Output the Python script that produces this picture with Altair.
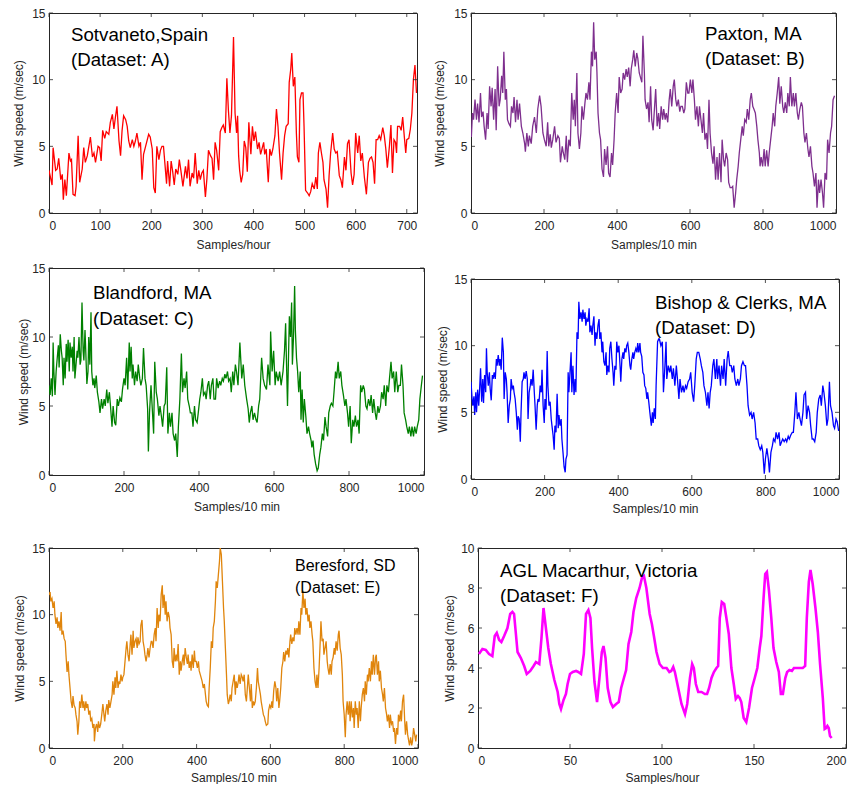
import altair as alt
import pandas as pd

# ---------------- data (sample index, wind speed m/s) ----------------
A_pts = [(0,3.2),(6,2.1),(8,4.9),(13,3.2),(16,3.3),(19,4.1),(23,2.5),(26,2.9),(28,1.0),(31,2.5),
 (34,1.3),(39,4.5),(42,3.9),(44,4.0),(47,1.4),(51,1.3),(53,2.0),(57,5.8),(60,2.3),(65,3.3),
 (68,4.9),(71,3.8),(75,4.3),(81,5.7),(85,4.2),(88,4.5),(91,3.8),(96,5.0),(99,4.9),(102,3.9),
 (105,6.2),(109,5.6),(112,6.1),(117,5.9),(120,6.8),(124,7.4),(127,6.3),(130,7.2),(133,8.0),(137,5.4),
 (140,4.3),(143,6.2),(146,7.3),(150,7.0),(153,6.5),(156,5.4),(159,4.9),(163,5.5),(166,5.0),(169,5.4),
 (172,6.0),(176,5.0),(179,5.3),(182,2.5),(185,4.4),(189,5.0),(195,5.9),(198,5.7),(202,4.8),(205,1.9),
 (208,1.5),(211,5.0),(215,4.0),(218,4.7),(221,5.0),(224,5.0),(230,2.2),(232,3.9),(236,2.0),(239,3.9),
 (242,3.1),(245,2.1),(248,3.3),(252,2.9),(255,4.0),(258,3.2),(262,2.0),(267,3.5),(270,2.6),(273,4.0),
 (276,2.0),(280,3.0),(283,2.6),(286,4.5),(290,2.2),(293,3.2),(296,2.5),(299,3.0),(302,3.2),(306,1.2),
 (309,2.6),(312,4.7),(316,4.3),(319,4.1),(322,2.5),(325,5.3),(328,4.7),(332,3.2),(335,6.1),(338,6.4),
 (341,6.6),(345,6.0),(348,10.1),(351,7.7),(354,6.0),(357,7.3),(361,13.2),(364,7.5),(367,6.0),(369,7.3),
 (371,4.3),(373,3.2),(376,2.3),(379,2.9),(382,5.4),(385,4.9),(388,3.1),(391,6.8),(395,4.4),(398,6.5),
 (401,5.4),(404,6.1),(408,4.8),(411,5.3),(414,4.4),(418,5.0),(420,5.3),(422,4.4),(425,4.8),(429,2.3),
 (432,4.8),(435,4.3),(438,4.8),(442,5.8),(445,7.8),(448,6.5),(451,4.5),(455,2.5),(458,4.5),(461,5.8),
 (464,6.5),(468,6.7),(470,9.8),(473,10.8),(475,12.0),(478,9.5),(481,10.2),(484,6.0),(486,4.2),(489,3.8),
 (491,8.5),(494,9.0),(497,9.0),(499,6.5),(502,1.7),(506,1.5),(509,1.3),(512,1.6),(515,2.2),(519,1.8),
 (522,2.7),(525,1.8),(527,4.5),(530,5.3),(533,4.5),(536,3.8),(538,2.5),(542,1.8),(545,0.4),(548,2.8),
 (551,4.5),(555,6.0),(558,4.8),(561,4.5),(564,4.6),(568,2.8),(571,2.5),(574,1.9),(578,4.2),(581,3.2),
 (584,5.2),(587,5.5),(591,3.0),(594,2.1),(597,2.9),(600,6.0),(604,4.5),(607,5.8),(610,3.9),(613,4.5),
 (617,2.7),(621,1.4),(625,3.8),(628,4.1),(631,4.2),(634,3.8),(637,2.2),(640,5.5),(643,5.5),(646,5.8),
 (649,5.5),(653,6.4),(656,5.8),(659,4.8),(662,3.4),(666,5.0),(669,6.6),(672,3.0),(675,5.5),(678,5.3),
 (680,4.5),(682,6.5),(686,6.5),(689,6.2),(692,7.2),(695,5.8),(698,4.5),(700,5.5),(704,5.6),(707,6.3),
 (710,7.5),(713,10.0),(716,11.1),(719,9.0)]

B_pts = [(1,5.7),(4,7.5),(7,7.0),(11,8.5),(15,7.0),(18,8.2),(22,6.8),(26,9.0),(29,7.2),(33,7.6),
 (36,6.5),(40,5.5),(44,7.5),(47,6.3),(51,9.5),(55,8.0),(58,9.4),(62,7.0),(66,9.3),(69,6.2),
 (73,11.0),(77,8.0),(80,8.5),(84,10.3),(87,9.0),(90,12.1),(94,8.5),(97,9.3),(100,7.0),(104,6.7),
 (108,6.5),(111,8.0),(115,7.5),(118,8.7),(122,6.8),(126,8.5),(129,7.0),(133,8.2),(138,6.5),(142,6.0),
 (147,5.2),(149,4.6),(153,6.0),(157,5.0),(160,5.8),(165,5.2),(169,6.5),(174,7.2),(179,6.0),(183,7.8),
 (188,8.8),(192,8.0),(197,6.0),(201,5.5),(206,5.0),(210,6.8),(213,5.0),(217,5.9),(220,4.9),(224,5.5),
 (229,6.5),(233,5.3),(238,5.8),(242,5.6),(245,3.8),(250,5.0),(253,4.5),(257,4.0),(261,5.8),(264,3.8),
 (268,5.5),(272,5.0),(276,9.0),(280,7.0),(283,8.5),(286,6.5),(290,10.5),(293,6.0),(297,4.8),(301,6.0),
 (304,8.0),(308,7.0),(312,8.2),(315,9.0),(319,8.5),(323,9.8),(326,8.5),(330,12.1),(333,11.0),(336,14.3),
 (339,11.5),(343,12.1),(345,10.6),(348,7.5),(352,6.0),(355,5.5),(359,3.3),(363,2.7),(366,4.8),(370,3.6),
 (374,5.0),(377,3.0),(381,2.7),(385,4.5),(388,3.6),(392,5.5),(395,7.5),(399,9.0),(403,7.5),(406,10.2),
 (410,9.0),(414,9.3),(417,10.5),(421,10.0),(425,10.8),(428,10.2),(432,10.9),(436,9.5),(439,10.8),(443,11.5),
 (446,12.2),(450,11.0),(454,12.0),(457,11.6),(461,10.5),(466,10.0),(468,9.8),(471,13.3),(475,10.5),(477,8.5),
 (481,7.8),(485,8.3),(488,6.8),(492,9.5),(495,7.0),(499,6.2),(503,8.0),(506,9.3),(510,6.5),(514,7.5),
 (517,6.3),(521,8.0),(525,7.0),(528,7.8),(532,7.0),(535,7.5),(539,6.8),(543,8.5),(546,9.3),(550,8.0),
 (554,9.5),(557,10.0),(561,8.5),(564,8.0),(568,8.5),(572,7.6),(575,8.0),(579,8.0),(583,7.5),(586,7.8),
 (590,9.8),(594,9.0),(597,9.0),(601,10.0),(605,9.0),(608,10.0),(612,8.5),(615,7.0),(619,8.0),(623,6.5),
 (626,8.0),(630,7.0),(634,6.0),(637,7.5),(641,5.5),(645,6.0),(648,4.8),(652,8.5),(655,6.0),(659,4.5),
 (663,3.7),(666,5.0),(670,2.5),(674,4.2),(677,2.5),(681,4.5),(685,2.3),(688,5.5),(692,4.0),(695,3.5),
 (699,4.5),(703,4.0),(706,2.3),(710,1.9),(714,1.9),(717,2.0),(721,0.4),(725,1.5),(728,2.5),(732,3.5),
 (735,4.5),(739,5.5),(743,6.5),(746,5.8),(750,7.0),(754,6.8),(757,7.8),(761,7.0),(765,8.5),(768,9.0),
 (772,8.0),(775,7.8),(779,7.5),(783,6.5),(786,5.5),(790,4.5),(792,3.5),(795,4.2),(799,3.5),(803,4.8),
 (806,3.5),(810,4.7),(814,3.5),(817,4.5),(821,5.5),(825,6.5),(828,7.5),(832,6.5),(835,8.0),(839,9.0),
 (843,10.2),(846,8.2),(850,9.5),(854,8.0),(857,7.5),(861,8.3),(865,7.5),(868,9.0),(872,8.0),(875,10.2),
 (879,8.0),(883,9.0),(886,8.0),(890,9.0),(894,7.5),(897,7.0),(901,7.8),(905,8.3),(908,8.0),(912,6.0),
 (915,5.3),(919,6.0),(923,4.8),(926,4.2),(930,5.0),(934,3.5),(937,3.0),(941,2.0),(945,3.0),(948,0.4),
 (952,2.5),(955,1.5),(959,2.5),(963,1.5),(966,0.4),(970,3.0),(974,2.5),(977,5.5),(981,4.5),(985,6.0),
 (988,6.5),(992,8.5),(996,8.8)]

C_pts = [(0,6.5),(3,5.8),(6,7.0),(9,5.7),(11,9.6),(13,7.5),(16,5.8),(19,7.5),(22,8.5),(25,9.4),
 (27,7.8),(30,10.2),(33,9.0),(35,8.5),(38,6.5),(40,8.5),(43,7.0),(46,9.5),(48,8.2),(51,9.8),
 (54,7.5),(56,9.6),(59,8.5),(62,9.3),(64,7.5),(67,10.0),(69,7.0),(72,8.0),(75,9.0),(77,8.5),
 (80,10.0),(83,8.0),(85,8.3),(88,12.5),(91,9.0),(93,8.3),(96,10.5),(98,9.0),(101,6.6),(104,7.5),
 (106,10.0),(109,8.0),(112,11.8),(114,7.5),(117,6.5),(120,7.0),(122,6.3),(126,7.2),(129,6.0),(133,5.3),
 (136,4.5),(140,5.5),(143,4.8),(147,5.5),(150,5.0),(154,6.2),(157,5.2),(161,6.0),(164,5.0),(168,3.5),
 (171,5.0),(175,3.8),(178,3.6),(182,5.5),(185,5.0),(189,5.6),(193,5.3),(196,6.2),(200,7.0),(203,6.5),
 (207,8.5),(210,6.2),(214,9.6),(216,7.5),(219,9.3),(222,7.0),(224,8.0),(228,6.5),(231,7.5),(235,6.8),
 (238,8.0),(242,7.0),(245,6.5),(249,7.0),(252,9.2),(256,7.0),(259,6.5),(263,4.8),(265,1.7),(268,4.5),
 (272,6.5),(275,5.0),(279,3.0),(282,8.2),(286,6.0),(289,5.5),(293,4.3),(296,5.0),(300,4.2),(303,3.5),
 (307,5.0),(310,5.2),(314,7.8),(317,3.0),(321,4.5),(324,3.5),(328,4.5),(331,3.0),(335,2.5),(338,3.0),
 (342,1.3),(345,3.5),(349,5.5),(353,8.8),(356,6.0),(360,7.0),(363,6.3),(367,7.5),(370,5.5),(374,5.0),
 (377,4.5),(381,4.5),(384,3.5),(388,5.0),(391,4.0),(395,3.8),(398,4.5),(402,5.5),(405,6.0),(409,7.0),
 (412,5.8),(416,6.0),(419,5.5),(423,6.5),(426,6.8),(430,5.5),(433,6.5),(437,7.0),(440,5.5),(444,5.5),
 (447,7.0),(451,6.3),(455,6.8),(458,6.5),(462,7.0),(465,6.8),(469,7.3),(472,7.0),(476,7.5),(479,6.8),
 (483,7.0),(486,6.0),(490,7.5),(493,6.5),(497,8.0),(500,7.5),(504,6.5),(509,9.6),(514,7.0),(518,8.0),
 (522,6.5),(527,5.5),(531,4.8),(534,3.8),(537,4.5),(541,5.0),(544,4.0),(548,4.5),(552,4.0),(555,3.8),
 (559,5.0),(562,5.5),(567,8.5),(571,7.0),(575,6.5),(580,6.2),(584,8.0),(589,6.5),(591,10.4),(595,7.5),
 (599,9.0),(603,6.5),(606,7.5),(611,6.8),(615,7.5),(619,6.5),(624,7.5),(628,9.0),(631,11.0),(633,8.5),
 (636,5.0),(639,9.0),(641,11.5),(644,10.0),(647,12.5),(649,8.0),(652,10.0),(655,13.7),(657,10.5),(660,8.5),
 (663,7.5),(666,6.0),(670,7.5),(672,4.0),(675,6.2),(678,3.8),(681,5.5),(685,4.2),(688,3.0),(692,3.5),
 (695,3.0),(699,2.5),(701,2.0),(704,2.5),(707,1.5),(711,0.8),(715,0.3),(718,0.5),(722,1.5),(725,2.0),
 (729,3.0),(732,2.5),(736,4.2),(739,3.5),(743,2.8),(746,4.5),(750,5.0),(753,5.2),(757,5.0),(760,6.0),
 (764,7.5),(767,7.0),(771,8.2),(774,7.0),(778,7.5),(781,6.5),(785,5.8),(789,5.0),(792,5.5),(796,4.5),
 (799,3.5),(803,5.0),(806,2.3),(810,4.0),(813,3.5),(817,4.3),(820,3.5),(824,4.0),(827,3.0),(831,6.5),
 (834,6.0),(838,6.5),(841,6.2),(845,5.0),(848,4.8),(852,5.5),(856,5.0),(859,5.8),(863,4.5),(866,5.5),
 (870,4.5),(873,4.0),(877,5.0),(880,4.5),(884,5.0),(887,6.0),(891,5.5),(894,6.5),(898,5.0),(901,6.5),
 (905,6.0),(908,7.0),(912,8.2),(915,7.0),(919,7.5),(922,6.0),(926,7.5),(930,6.0),(933,6.5),(937,6.5),
 (940,8.0),(944,6.5),(947,4.5),(951,4.0),(954,3.5),(958,3.0),(961,3.5),(965,2.8),(968,3.5),(972,2.8),
 (975,3.5),(979,3.0),(982,3.5),(986,4.0),(989,5.5),(993,6.5),(996,7.2)]

D_pts = [(0,7.3),(3,6.0),(5,5.5),(8,6.2),(10,4.8),(13,6.5),(15,5.0),(18,6.7),(21,5.5),(23,6.5),
 (26,8.3),(29,5.8),(32,7.5),(34,5.7),(37,7.8),(40,6.5),(42,9.8),(44,8.0),(47,7.0),(50,8.0),
 (52,6.8),(55,5.9),(58,7.8),(60,7.5),(63,8.0),(66,7.5),(69,9.0),(71,8.5),(74,9.3),(77,8.5),
 (79,9.0),(82,8.2),(85,10.6),(88,9.5),(90,6.0),(93,8.0),(96,7.5),(98,6.5),(101,4.2),(104,5.5),
 (107,6.0),(109,7.5),(112,6.8),(115,7.0),(117,6.5),(120,6.0),(123,5.0),(126,3.7),(128,4.7),(131,4.5),
 (134,2.8),(136,5.0),(139,7.3),(142,7.5),(144,8.0),(147,7.5),(150,8.1),(153,7.5),(155,4.5),(158,6.5),
 (161,7.0),(163,7.5),(166,7.0),(169,8.2),(172,6.5),(174,5.5),(177,3.7),(180,5.5),(182,6.0),(185,5.8),
 (188,7.0),(191,6.5),(193,8.2),(196,5.5),(199,4.2),(201,6.0),(204,5.2),(207,9.6),(209,7.0),(212,5.5),
 (215,5.8),(218,4.5),(220,4.0),(223,3.3),(226,2.2),(228,4.0),(231,3.5),(234,6.4),(237,3.8),(239,4.8),
 (242,4.0),(245,4.5),(247,3.0),(250,2.0),(253,0.9),(256,0.5),(258,1.5),(261,1.8),(264,8.0),(266,6.5),
 (269,8.0),(272,9.5),(274,6.5),(277,8.5),(280,6.3),(283,7.5),(285,6.5),(288,11.0),(291,10.5),(293,13.3),
 (296,12.0),(299,12.5),(302,11.8),(304,12.7),(307,12.0),(310,12.5),(312,11.5),(315,12.0),(318,11.8),(321,12.8),
 (323,11.0),(326,11.5),(329,10.8),(331,11.5),(334,12.2),(337,10.0),(339,11.0),(342,10.5),(345,11.5),(348,12.0),
 (350,10.5),(353,11.0),(356,9.5),(358,10.3),(361,8.8),(364,8.5),(367,9.5),(369,7.8),(372,8.5),(375,8.0),
 (377,9.8),(380,10.3),(383,9.0),(386,8.0),(388,7.0),(391,8.5),(394,8.2),(396,10.3),(399,9.5),(402,10.0),
 (405,8.5),(407,7.3),(410,9.0),(413,9.5),(415,9.0),(418,9.8),(421,9.5),(423,10.0),(426,10.2),(429,9.5),
 (432,8.5),(434,8.2),(437,9.0),(440,9.5),(442,9.0),(445,9.5),(448,9.8),(451,9.5),(453,10.2),(456,9.5),
 (459,10.2),(461,9.5),(464,9.2),(467,8.0),(470,7.8),(472,7.0),(475,6.8),(478,6.0),(480,6.5),(483,5.8),
 (486,5.0),(490,4.0),(493,5.0),(495,4.2),(498,5.3),(501,4.5),(503,7.0),(507,10.3),(510,10.5),(512,10.5),
 (516,10.0),(520,10.3),(523,6.5),(527,8.5),(530,10.3),(532,7.5),(536,8.5),(540,8.0),(543,8.5),(547,7.5),
 (550,8.3),(554,7.0),(558,8.5),(561,7.5),(565,6.0),(568,7.5),(572,6.5),(576,7.0),(579,6.5),(583,7.0),
 (586,6.8),(590,7.3),(594,7.5),(597,8.0),(601,6.5),(605,5.8),(608,7.0),(612,9.0),(615,9.5),(619,9.5),
 (623,9.0),(626,8.5),(630,8.0),(633,7.0),(637,6.5),(641,5.5),(644,6.5),(647,5.3),(650,6.5),(653,7.0),
 (657,8.5),(660,9.0),(664,7.5),(668,9.0),(670,7.5),(674,8.5),(678,7.0),(681,8.5),(685,7.5),(688,9.0),
 (692,7.0),(696,9.0),(699,9.6),(703,8.5),(707,8.5),(710,8.0),(714,8.5),(717,7.5),(721,7.0),(725,7.5),
 (728,7.0),(732,7.5),(735,8.5),(739,8.8),(743,8.5),(746,8.5),(750,7.0),(753,5.5),(757,4.8),(761,5.0),
 (764,4.5),(768,5.0),(772,4.2),(775,3.0),(779,3.0),(782,2.5),(786,2.2),(790,2.5),(793,2.0),(797,0.4),
 (800,1.5),(804,2.3),(808,1.5),(811,0.5),(815,2.0),(819,2.5),(822,3.0),(826,2.8),(829,3.5),(833,3.0),
 (837,3.5),(840,2.5),(844,2.8),(847,3.0),(851,2.8),(855,3.0),(858,2.8),(862,3.2),(865,3.0),(869,3.3),
 (873,3.5),(876,3.5),(880,5.0),(883,6.5),(887,4.5),(891,5.0),(894,4.5),(898,4.0),(902,5.0),(905,6.3),
 (909,6.5),(912,4.5),(916,5.5),(920,5.0),(923,4.0),(927,3.0),(930,3.0),(934,2.8),(938,3.5),(941,5.0),
 (945,6.0),(949,6.3),(952,5.5),(956,7.0),(959,6.5),(963,5.5),(967,4.0),(970,4.5),(974,7.3),(977,5.5),
 (981,5.0),(985,4.0),(988,3.8),(992,4.5),(995,4.3),(999,3.6)]

E_pts = [(0,11.5),(3,11.7),(5,11.0),(8,11.2),(11,10.5),(14,11.0),(16,10.0),(19,9.3),(22,9.8),(24,9.0),
 (27,9.5),(30,8.8),(33,10.2),(35,8.5),(38,8.8),(41,8.2),(44,8.0),(46,7.0),(49,5.7),(52,6.5),
 (54,5.5),(57,4.5),(60,3.5),(63,3.0),(65,3.9),(68,3.2),(71,3.0),(73,2.5),(76,2.0),(78,1.0),
 (81,2.0),(83,3.5),(86,3.0),(89,4.0),(92,3.0),(94,3.5),(97,2.8),(100,3.5),(102,3.0),(105,3.3),
 (108,2.5),(111,2.8),(113,2.0),(116,2.2),(119,1.5),(122,1.8),(123,0.5),(126,1.5),(129,1.8),(132,1.2),
 (134,2.0),(137,1.5),(140,1.8),(143,2.5),(146,3.3),(149,2.5),(151,2.0),(154,2.8),(157,3.3),(160,2.5),
 (162,3.6),(165,3.0),(168,3.5),(171,4.0),(173,5.0),(176,4.0),(179,5.3),(181,4.5),(184,5.8),(187,4.5),
 (190,5.0),(192,4.8),(195,5.5),(198,5.0),(200,5.3),(203,5.5),(206,6.5),(209,7.5),(211,8.0),(214,7.0),
 (217,6.5),(220,7.8),(222,8.5),(225,7.0),(228,8.8),(230,7.5),(233,8.0),(236,8.2),(239,7.5),(241,8.3),
 (244,7.8),(247,8.0),(249,9.2),(252,9.6),(255,8.0),(258,7.5),(260,7.0),(263,6.5),(266,7.0),(268,7.5),
 (271,6.8),(274,7.5),(277,8.0),(279,8.0),(282,7.5),(285,8.5),(288,9.0),(290,8.0),(293,10.5),(296,9.0),
 (298,10.0),(301,9.5),(304,11.5),(307,12.2),(309,10.5),(312,11.5),(315,10.0),(317,11.0),(320,9.5),(323,10.2),
 (326,9.8),(328,9.0),(331,8.5),(334,6.5),(337,6.0),(339,7.5),(342,6.5),(345,7.0),(347,6.5),(350,7.8),
 (353,5.5),(356,6.5),(358,5.8),(361,6.5),(364,7.0),(366,6.2),(369,7.5),(372,6.8),(375,6.3),(377,7.0),
 (380,6.0),(383,6.5),(385,5.8),(388,7.0),(391,6.0),(394,7.3),(396,6.5),(399,6.5),(402,6.0),(405,6.5),
 (407,5.8),(410,5.5),(413,5.2),(415,5.0),(418,4.5),(421,4.8),(424,4.0),(426,3.5),(429,3.2),(432,3.1),
 (434,4.5),(437,6.0),(440,8.0),(443,7.5),(445,9.0),(448,9.5),(451,11.0),(453,12.5),(456,12.0),(459,13.0),
 (462,14.0),(464,15.0),(467,14.5),(470,12.5),(473,10.5),(475,9.5),(478,7.5),(481,5.5),(483,4.0),(486,3.3),
 (488,3.5),(491,4.0),(494,3.5),(496,4.5),(499,5.0),(502,5.5),(505,4.0),(507,5.0),(510,4.5),(513,5.0),
 (515,5.5),(518,4.8),(521,5.5),(524,5.3),(526,5.0),(529,5.5),(532,4.0),(535,3.5),(537,4.3),(540,5.5),
 (543,4.5),(546,3.5),(548,4.8),(551,3.0),(554,3.5),(556,3.2),(559,3.5),(562,4.5),(565,6.0),(567,5.0),
 (570,4.5),(573,4.0),(575,3.5),(578,3.0),(581,2.5),(584,2.3),(586,2.0),(589,1.7),(593,1.8),(595,2.8),
 (598,3.2),(601,3.0),(604,3.5),(606,3.0),(609,4.3),(612,5.0),(615,4.5),(617,3.5),(620,4.5),(623,3.0),
 (625,3.5),(628,4.5),(631,6.0),(634,6.5),(636,7.2),(639,6.5),(642,7.3),(645,7.0),(647,7.5),(650,6.8),
 (653,8.0),(655,8.5),(658,7.8),(661,8.3),(664,8.0),(666,9.0),(669,8.5),(672,9.0),(675,8.5),(677,9.5),
 (680,8.5),(683,10.5),(685,10.0),(688,11.8),(691,10.5),(694,11.2),(696,10.0),(699,10.5),(702,9.5),(705,10.0),
 (707,9.0),(710,9.5),(713,8.5),(715,8.0),(718,6.0),(721,5.0),(724,4.5),(726,5.5),(729,4.5),(732,6.0),
 (735,8.0),(737,9.5),(740,8.0),(743,8.2),(745,7.0),(748,7.5),(751,8.0),(754,6.5),(756,6.0),(759,5.5),
 (762,6.3),(765,5.5),(767,6.5),(770,6.8),(773,7.5),(775,7.0),(778,8.0),(781,7.3),(784,8.5),(786,8.8),
 (789,7.5),(792,7.0),(795,5.5),(797,3.5),(800,2.5),(803,0.8),(805,2.5),(808,3.5),(811,2.5),(814,3.5),
 (816,2.0),(819,3.5),(822,2.3),(825,3.0),(827,1.5),(830,3.5),(833,2.5),(835,3.0),(838,1.5),(841,3.5),
 (844,2.0),(846,3.0),(849,4.0),(852,4.5),(855,3.5),(857,5.0),(860,4.0),(863,5.5),(865,5.0),(868,6.0),
 (871,5.0),(874,6.5),(876,5.5),(879,7.0),(882,5.5),(885,6.8),(887,7.0),(890,5.5),(893,6.5),(895,5.0),
 (898,5.8),(901,4.5),(904,4.0),(906,3.5),(909,4.5),(912,3.0),(915,2.5),(917,2.0),(920,2.5),(923,1.5),
 (925,2.5),(928,1.8),(931,2.0),(934,1.2),(936,1.5),(939,0.3),(942,1.5),(945,1.0),(947,2.5),(950,2.0),
 (953,2.8),(955,2.0),(958,3.5),(961,4.0),(964,2.0),(966,1.0),(969,2.0),(972,1.0),(975,0.5),(977,0.2),
 (980,0.8),(983,0.2),(985,0.5),(988,1.5),(991,1.0),(994,0.5),(996,1.0)]

F_pts = [(0.5,4.7),(2.4,4.95),(4.2,4.9),(6,4.7),(7.8,4.6),(9.1,5.6),(10.2,5.75),(11.5,5.4),(12.7,5.3),(14.2,5.6),
 (16,6.0),(17.5,6.7),(18.7,6.8),(19.6,6.7),(20.5,5.8),(21.5,4.8),(23.3,4.5),(25.1,4.1),(26.5,3.7),(28.4,3.85),
 (30.2,4.1),(31.5,4.3),(33.3,4.2),(34.5,5.5),(35.6,7.0),(36.9,6.0),(38.2,5.0),(39.6,4.2),(41.5,3.4),(43.3,2.8),
 (44.2,2.2),(45.1,1.95),(46.5,2.4),(47.8,2.7),(48.7,3.2),(50,3.7),(51.5,3.8),(53.3,3.85),(54.5,3.8),(56,3.7),
 (57.5,4.7),(58.7,6.7),(60,6.9),(61.1,6.5),(62,5.0),(63.3,3.3),(64.7,2.3),(66,3.5),(67.3,4.8),(68.2,5.1),
 (69.3,4.5),(70.5,3.0),(72,2.3),(73.3,2.05),(75.1,2.2),(76.5,2.3),(77.8,3.0),(79.3,3.5),(80.5,3.9),(81.8,5.2),
 (83.3,5.8),(84.5,6.8),(86,7.5),(87.8,8.0),(89.1,8.5),(90.2,8.6),(91.5,8.0),(93.3,6.7),(94.5,6.2),(95.6,5.6),
 (97,4.8),(98.7,4.2),(100.5,4.0),(102.5,4.0),(104,3.8),(105,3.85),(106.1,4.05),(107,3.8),(108.8,3.0),(110.6,2.2),
 (112.5,1.7),(113.7,2.2),(115.2,3.5),(116.4,4.2),(117.3,4.0),(118.4,3.2),(119.7,2.8),(121.5,2.8),(123.3,2.7),(124.5,2.7),
 (125.6,3.0),(126.9,3.5),(128.2,3.8),(129.6,4.0),(130.5,4.1),(131.4,6.5),(132.5,7.3),(133.8,7.2),(135,6.5),(136.3,5.7),
 (137.7,4.0),(139,3.2),(140.1,2.45),(141.3,2.6),(142.2,2.5),(143.1,2.3),(144.4,1.5),(145.8,1.3),(147.3,2.0),(148.9,3.0),
 (150.4,3.5),(151.8,4.0),(153.1,5.0),(154,5.6),(155.2,7.5),(156.1,8.7),(157,8.8),(158.1,7.9),(159.4,6.5),(160.6,5.0),
 (162.1,4.3),(163.5,3.8),(164.6,2.7),(165.7,2.7),(167,3.5),(168,3.8),(169.3,3.9),(170.6,3.85),(171.7,4.0),(172.9,4.0),
 (174.7,4.0),(176.5,4.0),(177.8,4.1),(178.7,6.5),(179.8,8.3),(180.7,8.9),(181.9,8.2),(183.4,7.0),(184.7,5.8),(185.9,4.2),
 (187.4,2.5),(188.4,0.95),(189.2,1.0),(189.9,1.1),(190.6,1.0),(191.3,0.6),(192.2,0.5)]

TICKS_A = [0, 100, 200, 300, 400, 500, 600, 700]
TICKS_1000 = [0, 200, 400, 600, 800, 1000]
TICKS_F = [0, 50, 100, 150, 200]
YT_15 = [0, 5, 10, 15]
YT_F = [0, 2, 4, 6, 8, 10]

FONT = "Liberation Sans"
AX = "#262626"


def panel(pts, color, lw, xmax, xticks, ymax, yticks, xtitle, w, h,
          lines, tx, ty, fs, ypad, xtpad=8):
    df = pd.DataFrame(pts, columns=["s", "v"])
    xs = alt.Scale(domain=[0, xmax], nice=False, zero=False)
    ys = alt.Scale(domain=[0, ymax], nice=False, zero=False)
    xax = alt.Axis(values=xticks, title=xtitle, labelPadding=7, titlePadding=xtpad, format="d")
    yax = alt.Axis(values=yticks, title="Wind speed (m/sec)", labelPadding=4,
                   titlePadding=ypad, format="d")
    line = alt.Chart(df).mark_line(color=color, strokeWidth=lw, clip=True).encode(
        x=alt.X("s:Q", scale=xs, axis=xax, title=xtitle),
        y=alt.Y("v:Q", scale=ys, axis=yax, title="Wind speed (m/sec)"))

    xt = pd.DataFrame({"s": xticks})
    yt = pd.DataFrame({"v": yticks})
    tx_ax = alt.X("s:Q", scale=xs, axis=xax, title=xtitle)
    ty_ax = alt.Y("v:Q", scale=ys, axis=yax, title="Wind speed (m/sec)")
    tk = dict(color=AX, strokeWidth=0.8)
    xb = alt.Chart(xt).mark_rule(**tk).encode(x=tx_ax, y=alt.value(h), y2=alt.value(h - 4))
    xtop = alt.Chart(xt).mark_rule(**tk).encode(x=tx_ax, y=alt.value(0), y2=alt.value(4))
    yl = alt.Chart(yt).mark_rule(**tk).encode(y=ty_ax, x=alt.value(0), x2=alt.value(4))
    yr = alt.Chart(yt).mark_rule(**tk).encode(y=ty_ax, x=alt.value(w), x2=alt.value(w - 4))

    layers = [line, xb, xtop, yl, yr]
    for i, txt in enumerate(lines):
        layers.append(
            alt.Chart(pd.DataFrame({"label": [txt]})).mark_text(
                align="left", baseline="alphabetic", font=FONT, fontSize=fs, color="black"
            ).encode(text="label:N", x=alt.value(tx), y=alt.value(ty[i]))
        )
    return alt.layer(*layers).properties(width=w, height=h)


A = panel(A_pts, "#ff0000", 1.3, 720, TICKS_A, 15, YT_15, "Samples/hour", 368, 200,
          ["Sotvaneto,Spain", "(Dataset: A)"], 22, [28, 53], 18.7, 6)
B = panel(B_pts, "#7e2f8e", 1.3, 1000, TICKS_1000, 15, YT_15, "Samples/10 min", 365, 200,
          ["Paxton, MA", "(Dataset: B)"], 234, [27, 52], 18.7, 7)
C = panel(C_pts, "#008000", 1.3, 1000, TICKS_1000, 15, YT_15, "Samples/10 min", 375, 207,
          ["Blandford, MA", "(Dataset: C)"], 44, [31, 57], 18.7, 1)
D = panel(D_pts, "#0000ff", 1.3, 1000, TICKS_1000, 15, YT_15, "Samples/10 min", 368, 200,
          ["Bishop & Clerks, MA", "(Dataset: D)"], 184, [30, 55], 18.7, 4, xtpad=6)
E = panel(E_pts, "#e0850c", 1.3, 1000, TICKS_1000, 15, YT_15, "Samples/10 min", 369, 200,
          ["Beresford, SD", "(Dataset: E)"], 246, [23, 45], 16, 5, xtpad=6)
F = panel(F_pts, "#ff00ff", 2.6, 200, TICKS_F, 10, YT_F, "Samples/hour", 368, 200,
          ["AGL Macarthur, Victoria", "(Dataset: F)"], 22, [29, 54], 18.7, 4, xtpad=6)

# invisible spacer that lowers panel D a little relative to panel C, as in the figure
spacer = alt.Chart(pd.DataFrame({"a": [0]})).mark_point(opacity=0).encode(
    x=alt.value(0), y=alt.value(0)
).properties(width=368, height=1, view=alt.ViewBackground(strokeOpacity=0))
D_col = alt.vconcat(spacer, D, spacing=1)

row1 = alt.hconcat(A, B, spacing=15)
row2 = alt.hconcat(C, D_col, spacing=11)
row3 = alt.hconcat(E, F, spacing=24)

chart = alt.vconcat(alt.vconcat(row1, row2, spacing=10), row3, spacing=26).properties(
    padding={"left": 4, "top": -2, "right": 0, "bottom": 0}
).configure_view(
    stroke=AX, strokeWidth=1
).configure_axis(
    domain=False, ticks=False, tickSize=0, grid=False,
    labelFont=FONT, labelFontSize=12, labelColor=AX,
    titleFont=FONT, titleFontSize=12, titleFontWeight="normal", titleColor=AX,
)

chart.save("out.html", embed_options={"renderer": "svg", "actions": False})
